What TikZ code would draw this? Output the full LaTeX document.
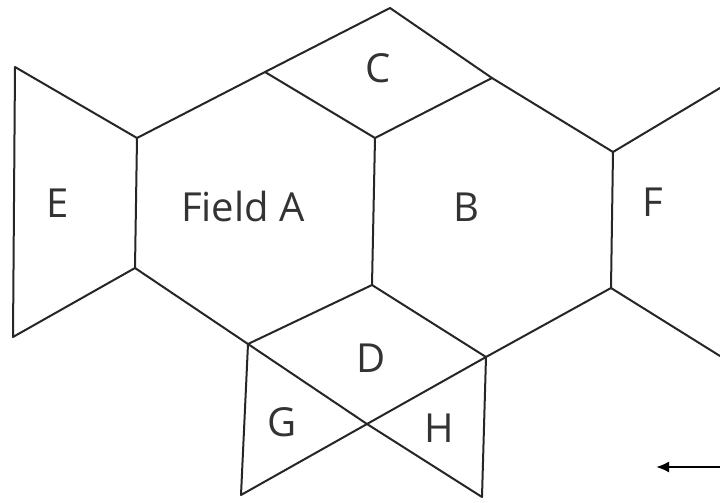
\documentclass[tikz,border=0pt]{standalone}
\usepackage{fontspec}
\setmainfont{Open Sans}
\usetikzlibrary{arrows.meta}
\begin{document}
\begin{tikzpicture}[x=1pt,y=-1pt,
  edge/.style={draw=black!85,line width=2pt,line join=round,line cap=round},
  lbl/.style={font=\fontsize{40}{40}\selectfont,text=black!80,inner sep=0pt}]
\useasboundingbox[fill=white] (0,0) rectangle (720,503);
% coordinates
\coordinate (e1) at (15,67);
\coordinate (e2) at (13,337);
\coordinate (a1) at (137,138);
\coordinate (a2) at (135,268);
\coordinate (c1) at (265,72);
\coordinate (c2) at (390,8);
\coordinate (c3) at (492,78);
\coordinate (c4) at (375,138);
\coordinate (f1) at (613,152);
\coordinate (f2) at (611,288);
\coordinate (fo1) at (720,88);
\coordinate (fo2) at (720,356);
\coordinate (d1) at (372,285);
\coordinate (d2) at (486,357);
\coordinate (d3) at (248,344);
\coordinate (x) at (367,424);
\coordinate (g1) at (241,495);
\coordinate (h1) at (482,497);
\coordinate (ar1) at (720,467);
\coordinate (ar2) at (656,467);
% E
\draw[edge] (e1) -- (e2) -- (a2) -- (a1) -- cycle;
% outline top
\draw[edge] (a1) -- (c1) -- (c2) -- (c3) -- (f1) -- (f2) -- (d2);
\draw[edge] (c1) -- (c4) -- (c3);
\draw[edge] (c4) -- (d1);
\draw[edge] (f1) -- (fo1);
\draw[edge] (f2) -- (fo2);
% D
\draw[edge] (a2) -- (d3) -- (d1) -- (d2);
% G and H
\draw[edge] (d3) -- (x) -- (h1) -- (d2) -- (x) -- (g1) -- cycle;
% arrow
\draw[line width=2pt,-{Latex[length=13pt,width=11pt]}] (ar1) -- (ar2);
% labels
\node[lbl] (lE) at (58,203) {E};
\node[lbl] (lA) at (243,206) {Field A};
\node[lbl] (lC) at (378,68) {C};
\node[lbl] (lB) at (466,207) {B};
\node[lbl] (lF) at (653,202) {F};
\node[lbl] (lD) at (371,358) {D};
\node[lbl] (lG) at (282,422) {G};
\node[lbl] (lH) at (439,428) {H};
\end{tikzpicture}
\end{document}
